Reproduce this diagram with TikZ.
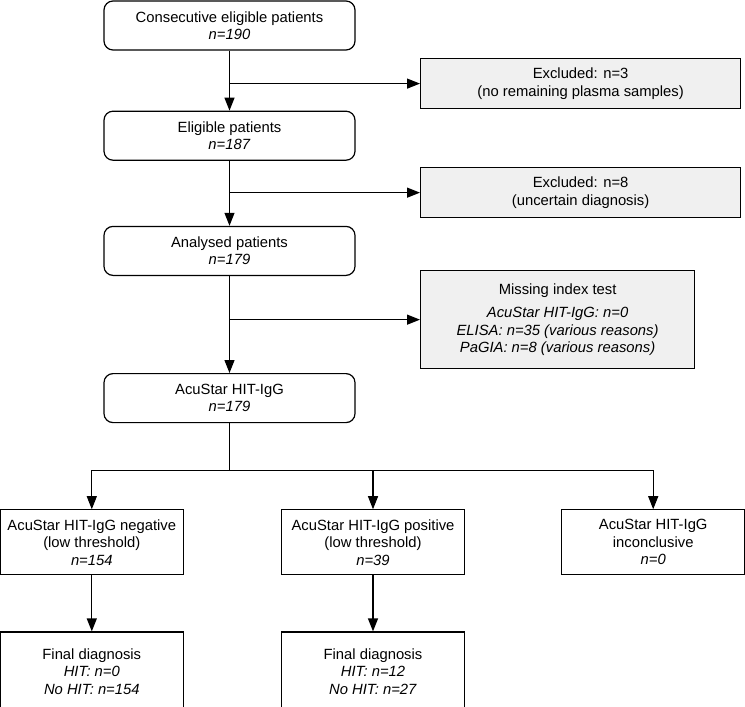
\documentclass[tikz,border=0pt]{standalone}
\usepackage{fontspec}
\setmainfont{Liberation Sans}
\usetikzlibrary{positioning,arrows.meta,calc}

\begin{document}
\begin{tikzpicture}[
    font=\fontsize{14.8}{17.5}\selectfont,
    box/.style={draw, line width=1.2pt, align=center, inner sep=3pt},
    mainbox/.style={box, rounded corners=9pt, minimum width=251pt, minimum height=49pt},
    excl/.style={box, fill=black!6, minimum width=320pt, minimum height=50pt},
    res/.style={box, minimum width=183pt, minimum height=65pt},
    fin/.style={box, minimum width=183pt, minimum height=79pt},
    arr/.style={-{Triangle[length=13pt, width=10pt]}, line width=1.2pt},
    ln/.style={line width=1.2pt},
  ]
  \useasboundingbox (0pt,0pt) rectangle (745pt,-707pt);

  % ===== main column =====
  \node[mainbox] (cons) at (229.5pt,-25.5pt)
    {Consecutive eligible patients\\ \textit{n=190}};
  \node[mainbox, below=60pt of cons] (elig)
    {Eligible patients\\ \textit{n=187}};
  \node[mainbox, below=65pt of elig] (anal)
    {Analysed patients\\ \textit{n=179}};
  \node[mainbox, below=97pt of anal] (acu)
    {AcuStar HIT-IgG\\ \textit{n=179}};

  % ===== branch points =====
  \coordinate (b1) at ($(cons.south)!0.55!(elig.north)$);
  \coordinate (b2) at ($(elig.south)!0.49!(anal.north)$);
  \coordinate (b3) at ($(anal.south)!0.45!(acu.north)$);
  \coordinate (split) at ([yshift=-47pt]acu.south);

  % ===== exclusions (right) =====
  \node[excl, right=190.5pt of b1] (exc1)
    {Excluded: n=3\\ (no remaining plasma samples)};
  \node[excl, right=190.5pt of b2] (exc2)
    {Excluded: n=8\\ (uncertain diagnosis)};
  \node[excl, minimum width=274pt, minimum height=98pt, right=190.5pt of b3] (miss)
    {Missing index test\\[6pt]
     \textit{AcuStar HIT-IgG: n=0}\\
     \textit{ELISA: n=35 (various reasons)}\\
     \textit{PaGIA: n=8 (various reasons)}};

  % ===== test results =====
  \node[res, anchor=north] (pos) at ([xshift=143.5pt, yshift=-86pt]acu.south)
    {AcuStar HIT-IgG positive\\ (low threshold)\\ \textit{n=39}};
  \node[res, left=97pt of pos] (neg)
    {AcuStar HIT-IgG negative\\ (low threshold)\\ \textit{n=154}};
  \node[res, right=96pt of pos] (inc)
    {AcuStar HIT-IgG\\ inconclusive\\ \textit{n=0}};

  % ===== final diagnosis =====
  \node[fin, below=56pt of neg] (fin1)
    {Final diagnosis\\ \textit{HIT: n=0}\\ \textit{No HIT: n=154}};
  \node[fin, below=56pt of pos] (fin2)
    {Final diagnosis\\ \textit{HIT: n=12}\\ \textit{No HIT: n=27}};

  % ===== arrows =====
  \draw[arr] (cons) -- (elig);
  \draw[arr] (elig) -- (anal);
  \draw[arr] (anal) -- (acu);
  \draw[arr] (b1) -- (exc1);
  \draw[arr] (b2) -- (exc2);
  \draw[arr] (b3) -- (miss);
  \draw[ln] (acu) -- (split);
  \draw[arr] (split) -| (neg);
  \draw[arr] (split) -| (inc);
  \draw[arr] (split -| pos) -- (pos);
  \draw[arr] (neg) -- (fin1);
  \draw[arr] (pos) -- (fin2);

\end{tikzpicture}
\end{document}
